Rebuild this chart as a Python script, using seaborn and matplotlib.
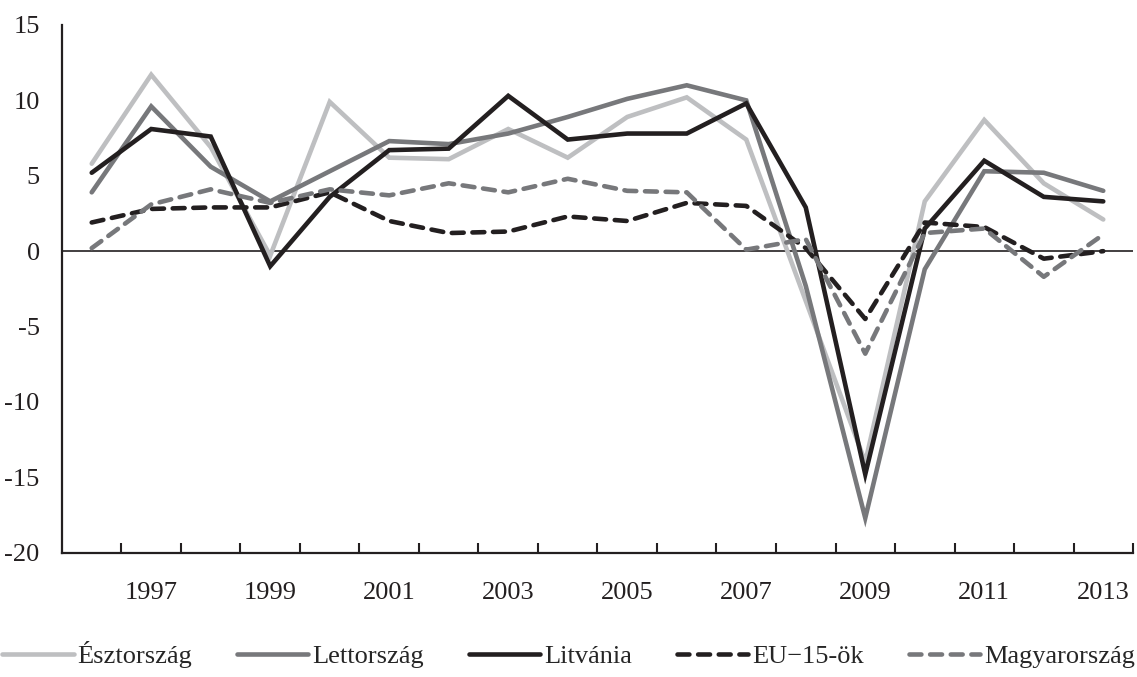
import matplotlib
matplotlib.use("Agg")
import matplotlib.pyplot as plt
import seaborn as sns
import numpy as np
import pandas as pd
from matplotlib.ticker import FixedLocator

years = list(range(1996, 2014))
esztorszag = [5.8, 11.7, 6.9, -0.3, 9.9, 6.2, 6.1, 8.1, 6.2, 8.9, 10.2, 7.4, -3.3, -14.0, 3.3, 8.7, 4.5, 2.1]
lettorszag = [3.9, 9.6, 5.6, 3.3, 5.3, 7.3, 7.1, 7.8, 8.9, 10.1, 11.0, 10.0, -2.3, -17.7, -1.2, 5.3, 5.2, 4.0]
litvania = [5.2, 8.1, 7.6, -1.0, 3.6, 6.7, 6.8, 10.3, 7.4, 7.8, 7.8, 9.8, 2.9, -14.8, 1.5, 6.0, 3.6, 3.3]
eu15 = [1.9, 2.8, 2.9, 2.9, 3.9, 2.0, 1.2, 1.3, 2.3, 2.0, 3.2, 3.0, 0.2, -4.5, 1.9, 1.6, -0.5, 0.0]
magyarorszag = [0.2, 3.1, 4.1, 3.2, 4.1, 3.7, 4.5, 3.9, 4.8, 4.0, 3.9, 0.1, 0.8, -6.8, 1.2, 1.5, -1.7, 1.1]

series_names = ["Észtország", "Lettország", "Litvánia", "EU\u221215-ök", "Magyarország"]
series_values = [esztorszag, lettorszag, litvania, eu15, magyarorszag]
series_colors = ["#BEBFC1", "#77787B", "#231F20", "#231F20", "#77787B"]
series_dashed = [False, False, False, True, True]

sns.set_style("white")
plt.rcParams["font.family"] = ["Liberation Serif", "DejaVu Serif"]

fig = plt.figure(figsize=(11.37, 6.77), dpi=100)
ax = fig.add_axes([0.0545, 0.1836, 0.9420, 0.7795])

for name, vals, col, dashed in zip(series_names, series_values, series_colors, series_dashed):
    df = pd.DataFrame({"year": years, "value": vals})
    sns.lineplot(data=df, x="year", y="value", color=col, linewidth=3.3,
                 label=name, ax=ax)
    line = ax.get_lines()[-1]
    if dashed:
        line.set_dashes((2.6, 1.9))
        line.set_dash_capstyle("round")
    line.set_solid_capstyle("round")
    line.set_solid_joinstyle("miter")

ax.axhline(0, color="#231F20", linewidth=1.2, zorder=1)

ax.set_xlim(1995.5, 2013.5)
ax.set_ylim(-20, 15)
ax.set_xlabel("")
ax.set_ylabel("")

ax.set_yticks([-20, -15, -10, -5, 0, 5, 10, 15])
ax.set_yticklabels(["-20", "-15", "-10", "-5", "0", "5", "10", "15"])
ax.set_xticks([y for y in years if y % 2 == 1])
ax.set_xticklabels([str(y) for y in years if y % 2 == 1])
ax.xaxis.set_minor_locator(FixedLocator([y + 0.5 for y in years]))

ax.tick_params(axis="x", which="major", length=0, pad=21, labelsize=19, colors="#231F20")
ax.tick_params(axis="x", which="minor", direction="in", length=7, width=1.5, color="#231F20", bottom=True)
ax.tick_params(axis="y", which="major", direction="in", length=7, width=1.5, color="#231F20",
               pad=16, labelsize=19, labelcolor="#231F20")

for s in ["top", "right"]:
    ax.spines[s].set_visible(False)
for s in ["left", "bottom"]:
    ax.spines[s].set_color("#231F20")
    ax.spines[s].set_linewidth(1.6)

handles, labels = ax.get_legend_handles_labels()
if ax.get_legend() is not None:
    ax.get_legend().remove()
fig.legend(handles, labels, loc="center", bbox_to_anchor=(0.5, 0.033), ncol=5,
           frameon=False, fontsize=19, handlelength=2.7, handletextpad=0.15,
           columnspacing=1.7, borderaxespad=0, borderpad=0)

fig.savefig("out.png", dpi=100)
